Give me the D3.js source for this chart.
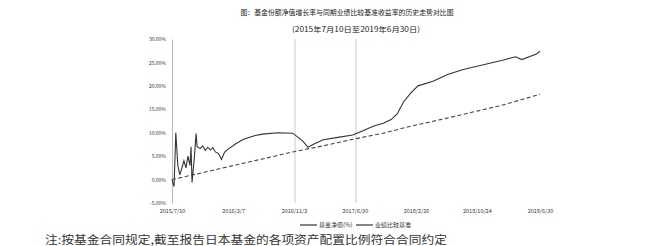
<!DOCTYPE html>
<html>
<head>
<meta charset="utf-8">
<script src="https://cdn.jsdelivr.net/npm/d3@7/dist/d3.min.js"></script>
<style>
  body { margin: 0; background: #fff; }
  text { font-family: "Noto Sans CJK SC", "Noto Sans", sans-serif; }
</style>
</head>
<body>
<script>
// chart values
var titleLines = ["图：基金份额净值增长率与同期业绩比较基准收益率的历史走势对比图",
                  "(2015年7月10日至2019年6月30日)"];
var seriesNames = ["基金净值(%)", "业绩比较基准"];
var footNote = "注:按基金合同规定,截至报告日本基金的各项资产配置比例符合合同约定";

var tickDates = ["2015-07-10", "2016-03-07", "2016-11-02", "2017-06-30", "2018-02-26", "2018-10-24", "2019-06-30"];
var tickLabels = ["2015/7/10", "2016/3/7", "2016/11/2", "2017/6/30", "2018/2/26", "2018/10/24", "2019/6/30"];
var markDates = ["2016-11-06", "2017-07-04"];
var yTicks = [-5, 0, 5, 10, 15, 20, 25, 30];

var fundDates = ["2015-07-10","2015-07-18","2015-07-25","2015-08-02","2015-08-10","2015-08-18","2015-08-26","2015-09-03",
  "2015-09-11","2015-09-19","2015-09-23","2015-09-27","2015-10-05","2015-10-13","2015-10-17","2015-10-29","2015-11-08",
  "2015-11-18","2015-11-28","2015-12-08","2015-12-18","2015-12-28","2016-01-09","2016-01-21","2016-02-02","2016-02-14",
  "2016-03-16","2016-04-17","2016-06-02","2016-07-01","2016-08-30","2016-10-28","2016-12-07","2016-12-27","2017-01-16",
  "2017-02-25","2017-04-24","2017-06-22","2017-08-01","2017-09-10","2017-10-20","2017-11-20","2017-12-14","2018-01-07",
  "2018-02-06","2018-03-06","2018-05-04","2018-07-03","2018-09-01","2018-11-19","2019-02-06","2019-03-10","2019-03-26",
  "2019-04-19","2019-06-16","2019-06-30"];
var fundValues = [0, -1.5, 10, 3, 1, 2.5, 4, 2.5, 5, 3, 7, -0.6, 4, 9.8, 7, 6.6, 7.2,
  6.2, 6.9, 6.3, 6.8, 5.9, 5.6, 4.3, 5.8, 6.4,
  7.6, 8.6, 9.4, 9.7, 10, 9.9, 8.2, 6.9, 7.5,
  8.5, 9, 9.5, 10.4, 11.4, 12, 12.8, 14, 16.5,
  18.5, 20, 21, 22.5, 23.5, 24.5, 25.5, 26, 26.2,
  25.6, 26.8, 27.4];

var benchDates = ["2015-07-10","2015-11-18","2016-03-16","2016-07-01","2016-10-28","2017-02-25","2017-06-22",
  "2017-10-20","2018-02-06","2018-06-03","2018-09-30","2019-01-27","2019-06-30"];
var benchValues = [0, 1.6, 3.1, 4.4, 5.9, 7.2, 8.6, 9.9, 11.4, 12.8, 14.3, 15.8, 18.2];

var W = 663, H = 246;
var margin = {left: 172, right: 123, top: 39, bottom: 43};
var parse = d3.timeParse("%Y-%m-%d");

var svg = d3.select("body").append("svg").attr("width", W).attr("height", H);

var x = d3.scaleTime()
  .domain([parse(tickDates[0]), parse(tickDates[tickDates.length - 1])])
  .range([margin.left, W - margin.right]);
var y = d3.scaleLinear().domain([-5, 30]).range([H - margin.bottom, margin.top]);

// title
svg.selectAll("text.title")
  .data(titleLines)
  .enter().append("text")
    .attr("class", "title")
    .attr("x", function(d, i){ return i == 0 ? 347 : 356; })
    .attr("y", function(d, i){ return 15 + i * 17; })
    .attr("text-anchor", "middle")
    .attr("textLength", function(d, i){ return i == 0 ? 213 : 128; })
    .attr("lengthAdjust", "spacingAndGlyphs")
    .attr("font-size", 7)
    .attr("fill", "#222")
    .text(function(d){ return d; });

// vertical marker lines
svg.selectAll("line.mark")
  .data(markDates)
  .enter().append("line")
    .attr("x1", function(d){ return x(parse(d)); })
    .attr("x2", function(d){ return x(parse(d)); })
    .attr("y1", margin.top)
    .attr("y2", H - margin.bottom)
    .attr("stroke", "#ccc")
    .attr("stroke-width", 1);

// y axis
var yAxis = svg.append("g")
  .attr("transform", "translate(" + margin.left + ",0)")
  .call(d3.axisLeft(y).tickValues(yTicks).tickSize(0).tickPadding(6)
    .tickFormat(function(d){ return d.toFixed(2) + "%"; }));
yAxis.select(".domain").attr("stroke", "#bbb");
yAxis.selectAll("text").attr("font-size", 5).attr("fill", "#333");

// x axis
var xAxis = svg.append("g")
  .attr("transform", "translate(0," + (H - margin.bottom) + ")")
  .call(d3.axisBottom(x).tickValues(tickDates.map(parse)).tickSize(0).tickPadding(6)
    .tickFormat(function(d, i){ return tickLabels[i]; }));
xAxis.select(".domain").remove();
xAxis.selectAll("text").attr("font-size", 5.5).attr("fill", "#333");

// lines
var line = d3.line()
  .x(function(d){ return x(parse(d[0])); })
  .y(function(d){ return y(d[1]); });

svg.append("path")
  .attr("fill", "none")
  .attr("stroke", "#333")
  .attr("stroke-width", 1.1)
  .attr("d", line(d3.zip(fundDates, fundValues)));

svg.append("path")
  .attr("fill", "none")
  .attr("stroke", "#444")
  .attr("stroke-width", 1.1)
  .attr("stroke-dasharray", "4,2.5")
  .attr("d", line(d3.zip(benchDates, benchValues)));

// legend
var legend = svg.append("g").attr("transform", "translate(300,225)");
seriesNames.forEach(function(name, i){
  var g = legend.append("g").attr("transform", "translate(" + (i * 56) + ",0)");
  g.append("line").attr("x1", 0).attr("x2", 17).attr("y1", 0).attr("y2", 0)
    .attr("stroke", "#333").attr("stroke-width", 1.2);
  g.append("text").attr("x", 19).attr("y", 2).attr("font-size", 6).attr("fill", "#333").text(name);
});

// footnote
svg.append("text")
  .attr("x", 45)
  .attr("y", 244)
  .attr("font-size", 11)
  .attr("textLength", 402)
  .attr("lengthAdjust", "spacingAndGlyphs")
  .attr("fill", "#333")
  .text(footNote);
</script>
</body>
</html>
